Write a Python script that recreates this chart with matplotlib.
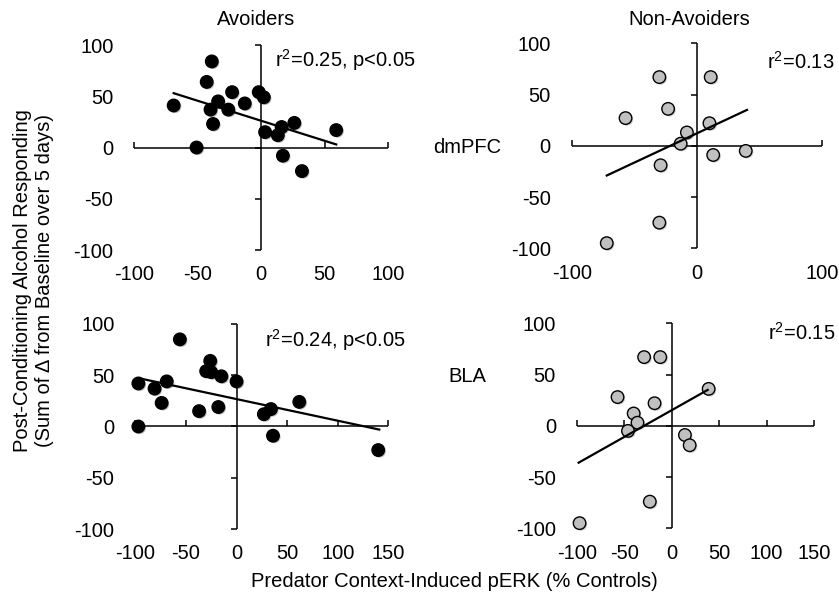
import numpy as np
import matplotlib.pyplot as plt
import matplotlib.patheffects as pe

plt.rcParams['font.family'] = ['Liberation Sans', 'DejaVu Sans']
plt.rcParams['mathtext.default'] = 'regular'
plt.rcParams['axes.unicode_minus'] = False

# Avoiders, dmPFC
av_pfc_x = [-69, -39, -43, -23, -34, -40, -26, -13, -38, -51, -2, 2, 3, 13, 16, 26, 59, 17, 32]
av_pfc_y = [41, 84, 64, 54, 45, 37, 37, 43, 23, 0, 54, 49, 15, 12, 20, 24, 17, -8, -23]
av_pfc_fit_x = [-69, 59]
av_pfc_fit_y = [53, 3]

# Non-Avoiders, dmPFC
na_pfc_x = [-30, 11, -23, -57, 10, -8, -13, 13, 39, -29, -30, -72]
na_pfc_y = [67, 67, 36, 27, 22, 13, 2, -9, -5, -19, -75, -95]
na_pfc_fit_x = [-72, 40]
na_pfc_fit_y = [-29, 35]

# Avoiders, BLA
av_bla_x = [-97, -97, -56, -81, -69, -74, -37, -26, -30, -25, -15, -18, 0, 27, 34, 62, 36, 140]
av_bla_y = [42, 0, 85, 37, 44, 23, 15, 64, 54, 53, 49, 19, 44, 12, 17, 24, -9, -23]
av_bla_fit_x = [-96, 141]
av_bla_fit_y = [47, -3]

# Non-Avoiders, BLA
na_bla_x = [-29, -12, 39, -57, -18, -40, -36, -46, 14, 19, -23, -97]
na_bla_y = [67, 67, 36, 28, 22, 12, 3, -5, -9, -19, -74, -95]
na_bla_fit_x = [-98, 38]
na_bla_fit_y = [-36, 35]

yticks = [-100, -50, 0, 50, 100]
FS = 14.5


def panel(ax, x, y, fit_x, fit_y, xlim, xticks, xmarks, face):
    ax.set_xlim(xlim)
    ax.set_ylim(-100, 100)
    for s in ax.spines.values():
        s.set_visible(False)
    ax.set_facecolor('none')
    ax.axhline(0, color='k', lw=1.1, zorder=1)
    ax.axvline(0, color='k', lw=1.1, zorder=1)
    # small tick marks on the zero axes
    ax.plot(xmarks, np.zeros(len(xmarks)), ls='none', marker=2, ms=4,
            mew=1.1, color='k', clip_on=False, zorder=1)
    ax.plot(np.zeros(len(yticks)), yticks, ls='none', marker=0, ms=4,
            mew=1.1, color='k', clip_on=False, zorder=1)
    ax.plot(x, y, ls='none', marker='o', ms=9, mfc=face, mec='k', mew=1.0,
            clip_on=False, zorder=2,
            path_effects=[pe.SimplePatchShadow(offset=(1, -1), alpha=0.25),
                          pe.Normal()])
    ax.plot(fit_x, fit_y, color='k', lw=1.6, zorder=3, clip_on=False)
    ax.set_xticks(xticks)
    ax.set_yticks(yticks)
    ax.tick_params(axis='x', length=0, pad=11, labelsize=FS)
    ax.tick_params(axis='y', length=0, pad=15, labelsize=FS)


fig = plt.figure(figsize=(8.39, 6.01), dpi=100)

ax1 = fig.add_axes([0.1601, 0.5840, 0.3027, 0.3411])
ax2 = fig.add_axes([0.6814, 0.5869, 0.2985, 0.3411])
ax3 = fig.add_axes([0.1613, 0.1198, 0.3016, 0.3411])
ax4 = fig.add_axes([0.6874, 0.1210, 0.2828, 0.3411])

panel(ax1, av_pfc_x, av_pfc_y, av_pfc_fit_x, av_pfc_fit_y, (-100, 100),
      [-100, -50, 0, 50, 100], [-100, -50, 50, 100], 'black')
panel(ax2, na_pfc_x, na_pfc_y, na_pfc_fit_x, na_pfc_fit_y, (-100, 100),
      [-100, 0, 100], [-100, 100], '#c0c0c0')
panel(ax3, av_bla_x, av_bla_y, av_bla_fit_x, av_bla_fit_y, (-100, 150),
      [-100, -50, 0, 50, 100, 150], [-100, -50, 50, 100, 150], 'black')
panel(ax4, na_bla_x, na_bla_y, na_bla_fit_x, na_bla_fit_y, (-100, 150),
      [-100, -50, 0, 50, 100, 150], [-100, -50, 50, 100, 150], '#c0c0c0')

# column / row titles
fig.text(0.305, 0.968, 'Avoiders', ha='center', va='center', fontsize=FS)
fig.text(0.822, 0.968, 'Non-Avoiders', ha='center', va='center', fontsize=FS)
fig.text(0.557, 0.754, 'dmPFC', ha='center', va='center', fontsize=FS)
fig.text(0.557, 0.374, 'BLA', ha='center', va='center', fontsize=FS)

# statistics
fig.text(0.3278, 0.900, r'r$^2$=0.25, p<0.05', ha='left', va='center', fontsize=FS)
fig.text(0.994, 0.897, r'r$^2$=0.13', ha='right', va='center', fontsize=FS)
fig.text(0.3159, 0.434, r'r$^2$=0.24, p<0.05', ha='left', va='center', fontsize=FS)
fig.text(0.995, 0.446, r'r$^2$=0.15', ha='right', va='center', fontsize=FS)

# axis titles
fig.text(0.040, 0.533, 'Post-Conditioning Alcohol Responding\n(Sum of Δ from Baseline over 5 days)',
         rotation=90, ha='center', va='center', fontsize=FS, linespacing=1.15)
fig.text(0.542, 0.033, 'Predator Context-Induced pERK (% Controls)',
         ha='center', va='center', fontsize=FS)

fig.savefig('out.png', dpi=100)
